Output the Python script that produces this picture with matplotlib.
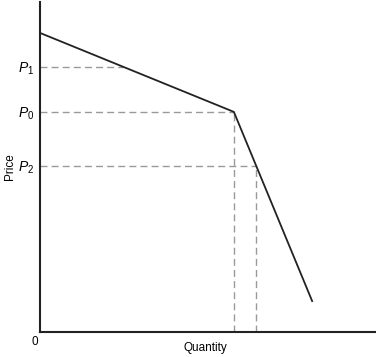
import numpy as np
import matplotlib
matplotlib.use("Agg")
import matplotlib.pyplot as plt

plt.rcParams['font.family'] = ['Liberation Sans', 'DejaVu Sans']
plt.rcParams['mathtext.fontset'] = 'custom'
plt.rcParams['mathtext.it'] = 'Liberation Sans:italic'
plt.rcParams['mathtext.rm'] = 'Liberation Sans'

# Kinked demand curve (quantity, price)
curve_q = [0, 57.7, 81.0]
curve_p = [89.0, 65.5, 9.2]

# Price levels
price_labels = ['$P_1$', '$P_0$', '$P_2$']
price_levels = [78.9, 65.5, 49.4]
# Which price levels get a vertical drop line to the quantity axis
drop_lines = [False, True, True]

W, H = 376, 357
fig = plt.figure(figsize=(W/100, H/100), dpi=100)
ax = fig.add_axes([40/W, 25/H, 336/W, 330/H])
ax.set_xlim(0, 100)
ax.set_ylim(0, 98.2)

# quantity on curve at each price (curve price is decreasing)
q_at = np.interp(price_levels, curve_p[::-1], curve_q[::-1])

for p, q, d in zip(price_levels, q_at, drop_lines):
    ax.plot([0, q], [p, p], color='#999999', lw=1.0, ls=(0, (5, 3)), zorder=1)
    if d:
        ax.plot([q, q], [0, p], color='#999999', lw=1.0, ls=(0, (5, 3)), zorder=1)

ax.plot(curve_q, curve_p, color='#222222', lw=1.3, zorder=2)

ax.set_yticks(price_levels)
ax.set_yticklabels(price_labels, fontsize=10)
ax.set_xticks([])
ax.tick_params(axis='y', length=0, pad=4)

for s in ['top', 'right']:
    ax.spines[s].set_visible(False)
for s in ['left', 'bottom']:
    ax.spines[s].set_linewidth(1.5)
    ax.spines[s].set_color('#222222')

fig.text(35/W, 1 - 342/H, '0', fontsize=8.5, ha='center', va='center')
fig.text(205/W, 1 - 348/H, 'Quantity', fontsize=8.5, ha='center', va='center')
fig.text(10/W, 1 - 167/H, 'Price', fontsize=8.5, ha='center', va='center', rotation=90)

fig.savefig('out.png', dpi=100)
